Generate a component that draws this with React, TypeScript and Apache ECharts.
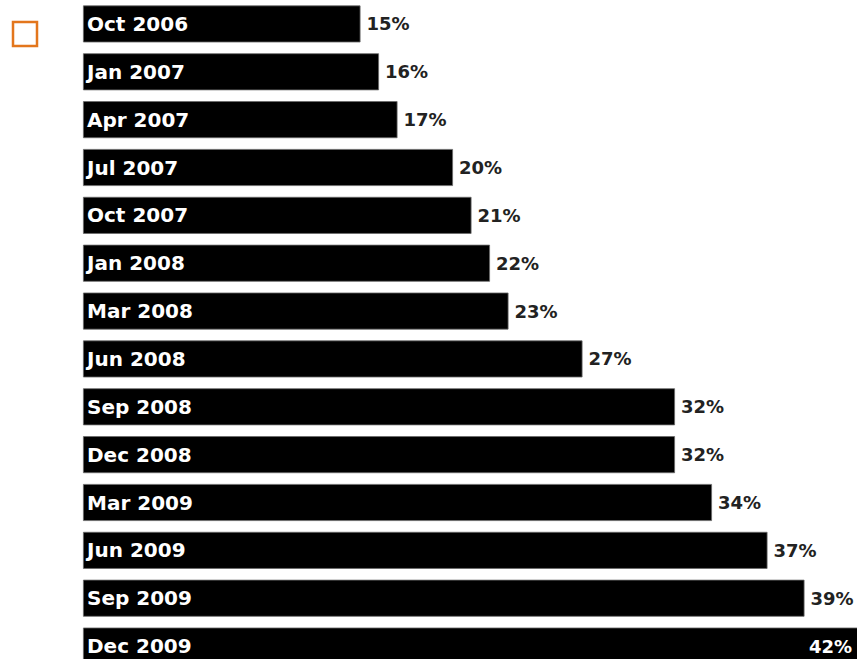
import React, { useEffect, useRef } from "react";
import * as echarts from "echarts";

const categories = [
  "Oct 2006", "Jan 2007", "Apr 2007", "Jul 2007", "Oct 2007", "Jan 2008", "Mar 2008",
  "Jun 2008", "Sep 2008", "Dec 2008", "Mar 2009", "Jun 2009", "Sep 2009", "Dec 2009",
];
const values = [15, 16, 17, 20, 21, 22, 23, 27, 32, 32, 34, 37, 39, 42];
const xMax = 42;

export default function App() {
  const ref = useRef<HTMLDivElement>(null);
  useEffect(() => {
    const chart = echarts.init(ref.current!, undefined, { renderer: "svg" });
    const lastIdx = values.length - 1;
    chart.setOption({
      animation: false,
      backgroundColor: "#ffffff",
      grid: { left: 83, top: 0, width: 777, height: 670, containLabel: false },
      xAxis: {
        type: "value",
        min: 0,
        max: xMax,
        show: false,
      },
      yAxis: {
        type: "category",
        data: categories,
        inverse: true,
        z: 10,
        axisLine: { show: false },
        axisTick: { show: false },
        splitLine: { show: false },
        axisLabel: {
          inside: true,
          margin: 4,
          color: "#ffffff",
          fontFamily: "DejaVu Sans",
          fontWeight: "bold",
          fontSize: 20,
        },
      },
      graphic: [
        {
          type: "rect",
          shape: { x: 13, y: 22, width: 24, height: 24 },
          style: { fill: "none", stroke: "#E3761C", lineWidth: 2.5 },
        },
      ],
      series: [
        {
          type: "bar",
          barWidth: 37,
          itemStyle: { color: "#000000", borderColor: "#6a6a6a", borderWidth: 0.8 },
          label: {
            show: true,
            position: "right",
            distance: 6,
            formatter: "{c}%",
            color: "#222222",
            fontFamily: "DejaVu Sans",
            fontWeight: "bold",
            fontSize: 18,
          },
          data: values.map((v, i) =>
            i === lastIdx
              ? { value: v, label: { position: "insideRight", distance: 8, color: "#ffffff" } }
              : v
          ),
        },
      ],
    });
    return () => chart.dispose();
  }, []);
  return (
    <div
      style={{
        position: "absolute",
        left: 0,
        top: 0,
        width: 857,
        height: 659,
        overflow: "hidden",
        background: "#fff",
      }}
    >
      <div ref={ref} style={{ width: 870, height: 680 }} />
    </div>
  );
}
